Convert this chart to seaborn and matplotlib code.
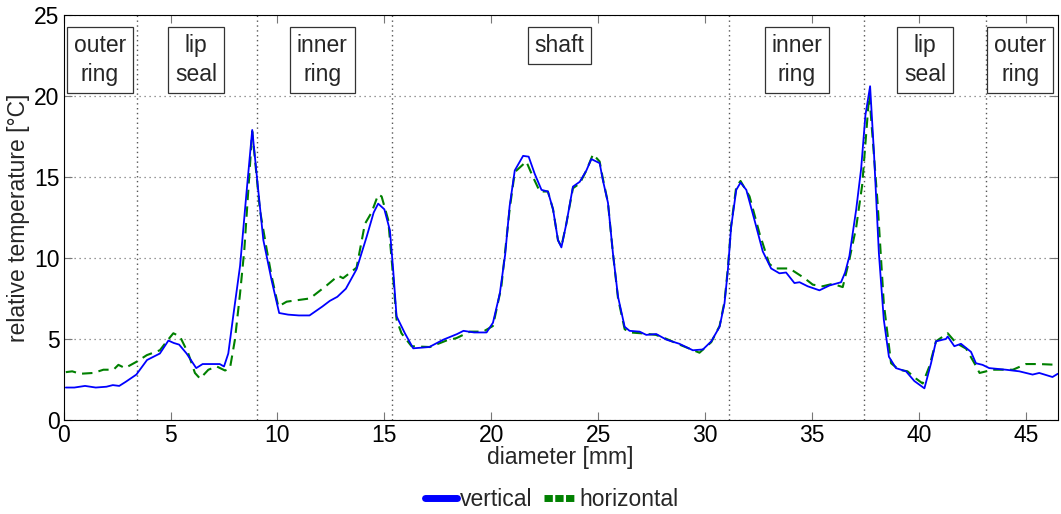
import numpy as np
import pandas as pd
import matplotlib
matplotlib.use("Agg")
import matplotlib.pyplot as plt
from matplotlib.lines import Line2D
import seaborn as sns

# Temperature profile across the bearing diameter
vert_x = [0.1, 0.5, 1.0, 1.5, 2.0, 2.3, 2.6, 2.9, 3.4, 3.9, 4.5, 4.9, 5.15, 5.4, 5.75,
          6.2, 6.5, 7.3, 7.5, 7.7, 7.93, 8.25, 8.55, 8.82, 9.1, 9.34, 9.73, 10.08, 10.5,
          11.0, 11.5, 12.1, 12.45, 12.8, 13.2, 13.7, 14.17, 14.5, 14.71, 15.0, 15.26,
          15.41, 15.57, 15.96, 16.35, 17.1, 17.75, 18.4, 18.7, 19.2, 19.78, 20.08, 20.4,
          20.65, 20.86, 21.1, 21.49, 21.75, 22.03, 22.35, 22.65, 22.89, 23.12, 23.28,
          23.51, 23.82, 24.14, 24.45, 24.68, 25.07, 25.22, 25.46, 25.69, 25.93, 26.24,
          26.47, 26.94, 27.25, 27.72, 28.2, 28.8, 29.43, 29.9, 30.29, 30.68, 30.91,
          31.07, 31.22, 31.46, 31.66, 31.93, 32.31, 32.7, 33.09, 33.48, 33.79, 34.18,
          34.42, 34.8, 35.35, 35.82, 36.36, 36.55, 36.75, 37.07, 37.3, 37.5, 37.72,
          37.9, 38.13, 38.36, 38.6, 38.93, 39.4, 39.79, 40.26, 40.57, 40.8, 41.27,
          41.35, 41.66, 41.97, 42.44, 42.67, 42.98, 43.29, 44.07, 44.7, 45.32, 45.63,
          46.25, 46.5]
vert_y = [2.0, 2.0, 2.1, 2.0, 2.05, 2.15, 2.1, 2.35, 2.8, 3.7, 4.1, 4.9, 4.75, 4.65, 4.1,
          3.2, 3.45, 3.45, 3.3, 4.1, 6.4, 9.5, 14.0, 17.9, 14.2, 11.1, 8.6, 6.6, 6.5,
          6.45, 6.45, 7.0, 7.35, 7.6, 8.1, 9.3, 11.3, 12.8, 13.35, 13.0, 11.7,
          9.3, 6.4, 5.35, 4.42, 4.5, 4.95, 5.3, 5.5, 5.4, 5.4, 6.0, 7.8,
          10.2, 13.2, 15.4, 16.3, 16.25, 15.2, 14.2, 14.1, 13.0, 11.1, 10.65,
          12.1, 14.4, 14.7, 15.4, 16.1, 15.85, 14.8, 13.4, 10.3, 7.6, 5.75,
          5.5, 5.45, 5.25, 5.3, 4.95, 4.7, 4.3, 4.35, 4.85, 5.75, 7.2,
          9.3, 11.9, 14.2, 14.65, 14.2, 12.35, 10.4, 9.35, 9.05, 9.1, 8.45,
          8.5, 8.25, 8.0, 8.3, 8.5, 9.1, 10.1, 13.0, 15.5, 18.8, 20.6,
          16.5, 10.3, 6.2, 3.9, 3.2, 3.0, 2.4, 1.95, 3.5, 4.85, 5.0,
          5.15, 4.55, 4.7, 4.2, 3.5, 3.4, 3.2, 3.1, 3.0, 2.8, 2.9,
          2.65, 2.85]

horiz_x = [0.1, 0.4, 0.77, 1.39, 1.86, 2.33, 2.56, 2.87, 3.42, 3.89, 4.5, 4.82, 5.13,
           5.44, 5.83, 6.14, 6.38, 6.77, 7.16, 7.55, 7.78, 8.01, 8.25, 8.45, 8.82, 9.18,
           9.5, 9.73, 10.04, 10.43, 11.52, 12.3, 12.84, 13.07, 13.7, 14.09, 14.4, 14.71,
           14.87, 15.18, 15.38, 15.57, 15.8, 16.27, 17.13, 17.9, 18.37, 19.0, 19.62,
           20.08, 20.47, 20.86, 21.1, 21.64, 21.95, 22.27, 22.65, 22.89, 23.12, 23.28,
           23.51, 23.82, 24.14, 24.45, 24.76, 25.07, 25.22, 25.46, 25.69, 25.93, 26.24,
           26.5, 27.0, 27.7, 28.2, 28.8, 29.74, 30.29, 30.68, 30.91, 31.07, 31.22,
           31.46, 31.66, 32.08, 32.55, 33.0, 33.25, 33.95, 34.65, 35.04, 35.5, 35.97,
           36.44, 36.75, 37.07, 37.35, 37.68, 38.07, 38.36, 38.7, 39.07, 39.47, 39.87,
           40.18, 40.49, 40.8, 41.35, 41.74, 42.21, 42.6, 42.84, 43.46, 44.4, 45.01,
           45.63, 46.5]
horiz_y = [2.95, 3.0, 2.85, 2.9, 3.1, 3.1, 3.4, 3.2, 3.6, 4.0, 4.3, 4.85, 5.35,
           5.15, 4.1, 2.9, 2.55, 3.1, 3.3, 3.05, 3.2, 4.95, 7.8, 10.5, 17.8, 12.95,
           10.5, 8.85, 7.0, 7.3, 7.5, 8.3, 8.9, 8.75, 9.4, 12.1, 12.8, 13.9,
           13.8, 12.35, 9.3, 6.2, 5.35, 4.55, 4.5, 4.9, 5.05, 5.45, 5.45,
           5.8, 8.2, 13.0, 15.3, 15.95, 15.0, 14.1, 14.1, 13.0, 11.1, 10.7,
           12.1, 14.3, 14.6, 15.4, 16.4, 15.95, 14.9, 13.4, 10.3, 7.5, 5.6,
           5.4, 5.35, 5.25, 5.0, 4.65, 4.15, 4.8, 5.8, 7.3, 9.4, 12.0,
           14.4, 14.75, 13.8, 11.5, 9.65, 9.35, 9.35, 8.75, 8.35, 8.25, 8.4,
           8.2, 9.9, 11.9, 14.5, 20.1, 13.4, 7.2, 3.5, 3.1, 3.0, 2.55,
           2.25, 3.3, 4.85, 5.35, 4.75, 4.4, 3.5, 2.9, 3.1, 3.1, 3.45,
           3.45, 3.4]

# Component boundaries and region labels
boundaries = [3.42, 9.06, 15.38, 31.1, 37.42, 43.15]
region_labels = ["outer\nring", "lip\nseal", "inner\nring", "shaft",
                 "inner\nring", "lip\nseal", "outer\nring"]
region_centers = [1.7, 6.2, 12.1, 23.2, 34.3, 40.3, 44.75]

sns.set_theme(style="white")
plt.rcParams["font.family"] = ["Liberation Sans", "DejaVu Sans"]

FS = 16.5

fig = plt.figure(figsize=(10.61, 5.14), dpi=100)
ax = fig.add_axes([0.06, 0.183, 0.937, 0.788])

df_v = pd.DataFrame({"diameter": vert_x, "temp": vert_y})
df_h = pd.DataFrame({"diameter": horiz_x, "temp": horiz_y})

ax.yaxis.grid(True, linestyle=(0, (1, 3)), color="#777777", lw=0.9)
for b in boundaries:
    ax.axvline(b, color="#555555", linestyle=(0, (1, 2.5)), lw=1.0, zorder=1)

sns.lineplot(data=df_v, x="diameter", y="temp", ax=ax, color="#0000ff", lw=1.3,
             estimator=None, zorder=4)
sns.lineplot(data=df_h, x="diameter", y="temp", ax=ax, color="#008000", lw=1.5,
             estimator=None, zorder=3, linestyle=(0, (5, 3)))

ax.set_xlim(0, 46.5)
ax.set_ylim(0, 25)
ax.set_xticks([0, 5, 10, 15, 20, 25, 30, 35, 40, 45])
ax.set_yticks([0, 5, 10, 15, 20, 25])
ax.tick_params(axis="both", direction="in", length=6, width=0.8, labelsize=FS,
               top=True, right=True, bottom=True, left=True, colors="#777777",
               labelcolor="black")
ax.tick_params(axis="x", pad=3)
ax.tick_params(axis="y", pad=3)
for sp in ax.spines.values():
    sp.set_color("black")
    sp.set_linewidth(0.8)

ax.set_xlabel("diameter [mm]", fontsize=FS, labelpad=-1)
ax.set_ylabel("relative temperature [°C]", fontsize=FS, labelpad=3)

for lab, cx in zip(region_labels, region_centers):
    ax.text(cx, 23.8, lab, ha="center", va="top", fontsize=FS, linespacing=1.3,
            zorder=6,
            bbox=dict(boxstyle="square,pad=0.3", fc="white", ec="#333333", lw=0.9))

handles = [Line2D([], [], color="#0000ff", lw=5),
           Line2D([], [], color="#008000", lw=5, linestyle=(0, (1.2, 0.35)))]
fig.legend(handles, ["vertical", "horizontal"], loc="lower center",
           bbox_to_anchor=(0.52, -0.035), ncol=2, frameon=False, fontsize=FS,
           handlelength=1.4, handletextpad=0.15, columnspacing=0.5)

fig.savefig("out.png", dpi=100)
